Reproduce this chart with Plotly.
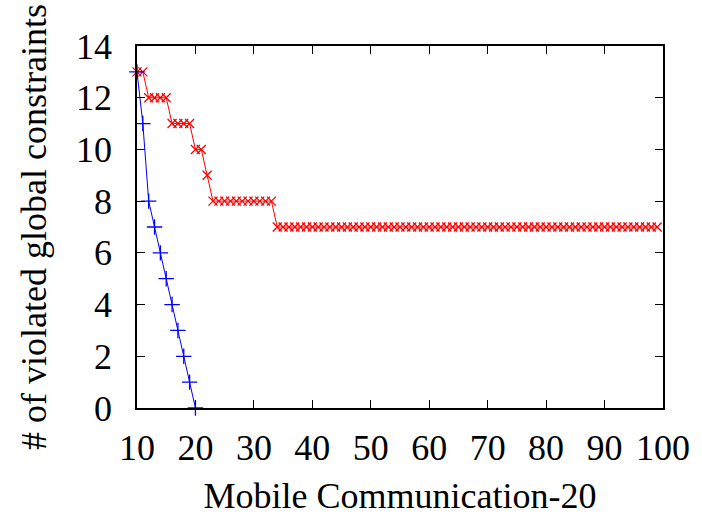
import plotly.graph_objects as go

# Iteration index (x) and number of violated global constraints (y)
blue_x = list(range(10, 21))
blue_y = [13, 11, 8, 7, 6, 5, 4, 3, 2, 1, 0]

red_x = list(range(10, 100))
red_y = ([13] * 2 + [12] * 4 + [11] * 4 + [10] * 2 + [9] * 1 + [8] * 11
         + [7] * (100 - 34))

x_ticks = [10, 20, 30, 40, 50, 60, 70, 80, 90, 100]
y_ticks = [0, 2, 4, 6, 8, 10, 12, 14]

font_family = "Liberation Serif, Times New Roman, serif"
font_size = 36

fig = go.Figure()
fig.add_trace(go.Scatter(
    x=red_x, y=red_y, mode="lines+markers",
    line=dict(color="#ff0000", width=1),
    marker=dict(symbol="x-thin", size=9, line=dict(color="#ff0000", width=1.3)),
    cliponaxis=False, showlegend=False,
))
fig.add_trace(go.Scatter(
    x=blue_x, y=blue_y, mode="lines+markers",
    line=dict(color="#0000ff", width=1),
    marker=dict(symbol="cross-thin", size=11, line=dict(color="#0000ff", width=1.3)),
    cliponaxis=False, showlegend=False,
))

axis_common = dict(
    showgrid=False, zeroline=False, showline=True, linecolor="black",
    linewidth=1.5, mirror="ticks", ticks="inside", ticklen=8,
    tickwidth=1.2, tickcolor="black", automargin=False,
    tickfont=dict(family=font_family, size=font_size, color="black"),
)

fig.update_layout(
    width=702, height=516,
    margin=dict(l=137, r=39, t=46, b=108),
    plot_bgcolor="white", paper_bgcolor="white",
    font=dict(family=font_family, color="black"),
    xaxis=dict(range=[10, 100], tickvals=x_ticks, ticklabelstandoff=7,
               title=dict(text="Mobile Communication-20",
                          font=dict(family=font_family, size=font_size), standoff=24),
               **axis_common),
    yaxis=dict(range=[0, 14], tickvals=y_ticks, ticklabelstandoff=16,
               title=dict(text="# of violated global constraints",
                          font=dict(family=font_family, size=font_size), standoff=18),
               **axis_common),
)

fig.write_html("out.html")
